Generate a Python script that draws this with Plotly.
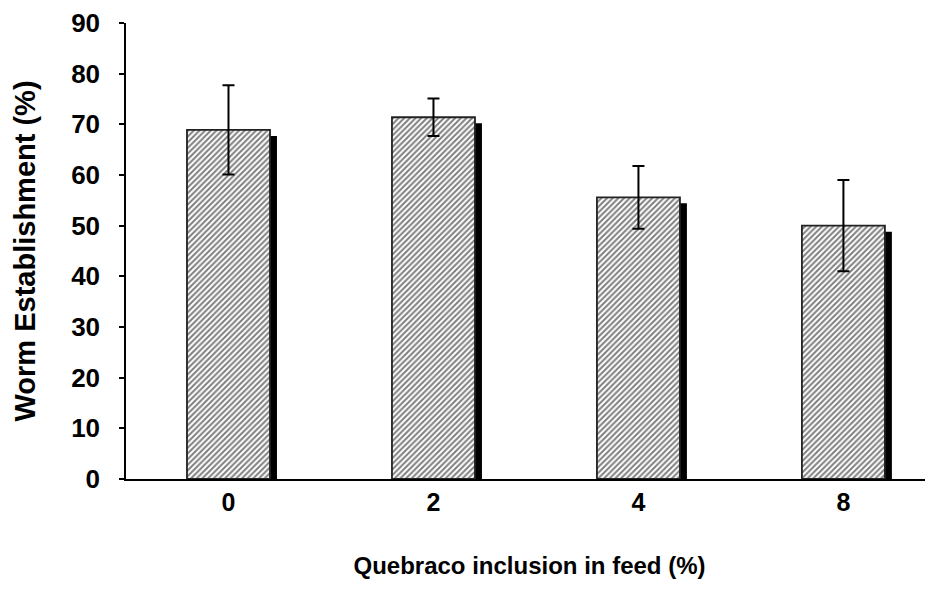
import plotly.graph_objects as go

categories = ["0", "2", "4", "8"]
means = [68.9, 71.4, 55.6, 50.0]
errors = [8.8, 3.7, 6.2, 9.0]

FONT = "Liberation Sans, Arial, sans-serif"
xpos = list(range(len(categories)))
bw = 0.405

fig = go.Figure()
# shadow bars
fig.add_trace(go.Bar(
    x=xpos, y=[m - 1.2 for m in means], width=bw, offset=-bw / 2 + 0.034,
    marker=dict(color="black", line=dict(width=0)), hoverinfo="skip", showlegend=False,
))
# main bars
fig.add_trace(go.Bar(
    x=xpos, y=means, width=bw, offset=-bw / 2,
    marker=dict(color="white",
                pattern=dict(shape="/", fgcolor="black", bgcolor="white", size=4, solidity=0.5),
                line=dict(color="#222222", width=1.8)),
    error_y=dict(type="data", array=errors, visible=True, color="black", thickness=2, width=6),
    showlegend=False,
))

fig.update_layout(
    width=925, height=590,
    margin=dict(l=118, r=0, t=13, b=119),
    barmode="overlay",
    plot_bgcolor="white", paper_bgcolor="white",
    font=dict(family=FONT, size=20, color="black"),
    xaxis=dict(
        tickmode="array", tickvals=xpos, ticktext=categories,
        range=[-0.5, 3.437], showline=True, linecolor="black", linewidth=1.5,
        ticks="", showgrid=False, zeroline=False, ticklabelstandoff=0,
        tickfont=dict(family=FONT, size=25, color="black", weight="bold"),
        title=dict(text="<b>Quebraco inclusion in feed (%)</b>", standoff=42,
                   font=dict(family=FONT, size=24, color="black")),
    ),
    yaxis=dict(
        range=[0, 90], dtick=10, showline=True, linecolor="black", linewidth=1.5,
        ticks="outside", ticklen=5, tickwidth=1.5, tickcolor="black",
        showgrid=False, zeroline=False, ticklabelstandoff=14, ticklabeloverflow="allow",
        tickfont=dict(family=FONT, size=26, color="black", weight="bold"),
        title=dict(text="<b>Worm Establishment (%)</b>", standoff=27,
                   font=dict(family=FONT, size=29, color="black")),
    ),
)

fig.write_html("out.html")
